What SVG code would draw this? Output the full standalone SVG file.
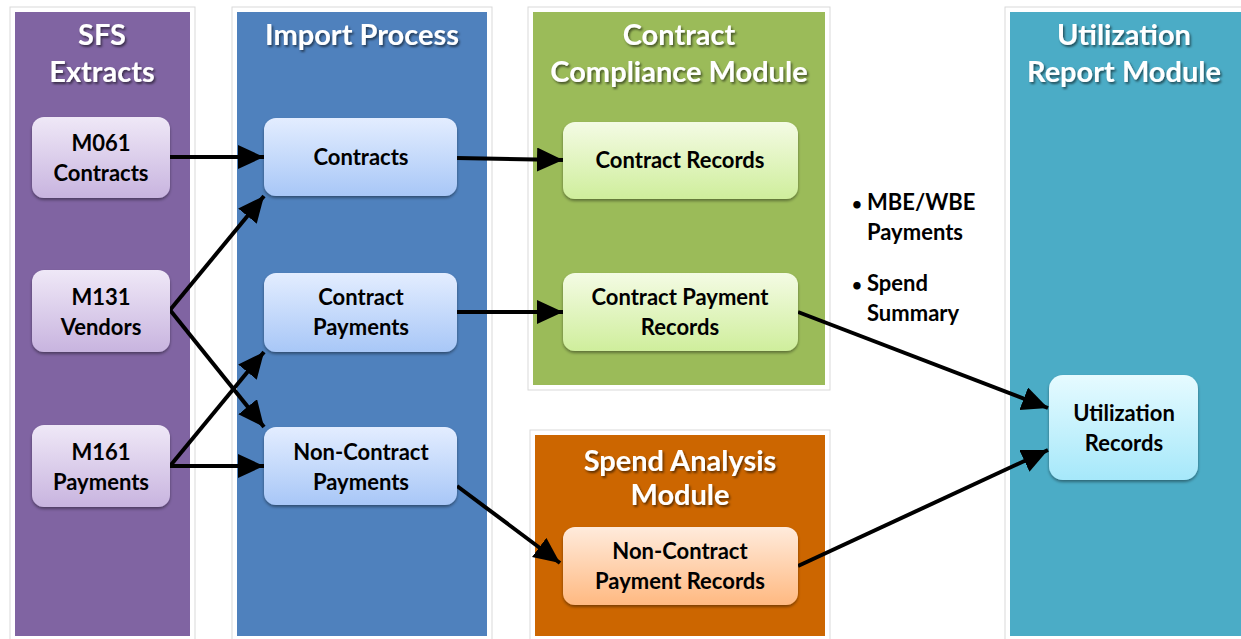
<svg xmlns="http://www.w3.org/2000/svg" width="1241" height="639" viewBox="0 0 1241 639">
<style>
.frame{fill:#fff;stroke:#d9d9d9;stroke-width:1}
.title{font-family:Lato,"Open Sans",sans-serif;font-weight:bold;font-size:29px;fill:#fff;text-anchor:middle;filter:url(#ts)}
.lbl{font-family:Lato,"Open Sans",sans-serif;font-weight:bold;font-size:22px;fill:#000;text-anchor:middle}
.node{filter:url(#ns)}
.conn{stroke:#000;stroke-width:4;fill:none;marker-end:url(#ah)}
</style>
<defs>
<filter id="ts" x="-10%" y="-30%" width="120%" height="160%"><feDropShadow dx="1.5" dy="2" stdDeviation="1.2" flood-color="#000" flood-opacity="0.55"/></filter>
<filter id="ns" x="-10%" y="-10%" width="120%" height="130%"><feDropShadow dx="0" dy="2" stdDeviation="1.5" flood-color="#000" flood-opacity="0.4"/></filter>
<marker id="ah" markerUnits="userSpaceOnUse" markerWidth="30" markerHeight="26" refX="26" refY="12" orient="auto"><path d="M0,0 L26,12 L0,24 Z" fill="#000"/></marker>
<linearGradient id="gp" x1="0" y1="0" x2="0" y2="1"><stop offset="0" stop-color="#efe8f7"/><stop offset="1" stop-color="#c8b4df"/></linearGradient>
<linearGradient id="gb" x1="0" y1="0" x2="0" y2="1"><stop offset="0" stop-color="#e3edff"/><stop offset="1" stop-color="#a8c7f7"/></linearGradient>
<linearGradient id="gg" x1="0" y1="0" x2="0" y2="1"><stop offset="0" stop-color="#f4fbe4"/><stop offset="1" stop-color="#cfee9c"/></linearGradient>
<linearGradient id="go" x1="0" y1="0" x2="0" y2="1"><stop offset="0" stop-color="#ffebdc"/><stop offset="1" stop-color="#ffb981"/></linearGradient>
<linearGradient id="gt" x1="0" y1="0" x2="0" y2="1"><stop offset="0" stop-color="#e6fbff"/><stop offset="1" stop-color="#a6e8fa"/></linearGradient>
</defs>
<rect width="1241" height="639" fill="#fff"/>

<g id="panel-sfs">
<rect class="frame" x="10" y="7" width="185" height="634"/>
<rect x="15" y="12" width="175" height="624" fill="#8064a2"/>
<text class="title" x="102" y="45">SFS</text>
<text class="title" x="102" y="82">Extracts</text>
</g>
<g id="panel-import">
<rect class="frame" x="232" y="7" width="260" height="634"/>
<rect x="237" y="12" width="250" height="624" fill="#4f81bd"/>
<text class="title" x="362" y="45">Import Process</text>
</g>
<g id="panel-compliance">
<rect class="frame" x="528" y="7" width="302" height="383"/>
<rect x="533" y="12" width="292" height="373" fill="#9bbb59"/>
<text class="title" x="679" y="45">Contract</text>
<text class="title" x="679" y="82">Compliance Module</text>
</g>
<g id="panel-spend">
<rect class="frame" x="530" y="430" width="300" height="211"/>
<rect x="535" y="435" width="290" height="201" fill="#cc6600"/>
<text class="title" x="680" y="471">Spend Analysis</text>
<text class="title" x="680" y="505">Module</text>
</g>
<g id="panel-utilization">
<rect class="frame" x="1005" y="7" width="245" height="634"/>
<rect x="1010" y="12" width="240" height="624" fill="#4bacc6"/>
<text class="title" x="1124" y="45">Utilization</text>
<text class="title" x="1124" y="82">Report Module</text>
</g>

<g id="connectors">
<line class="conn" x1="170" y1="157" x2="264" y2="157"/>
<line class="conn" x1="170" y1="310" x2="264" y2="196"/>
<line class="conn" x1="170" y1="310" x2="264" y2="427"/>
<line class="conn" x1="170" y1="466" x2="264" y2="352"/>
<line class="conn" x1="170" y1="466" x2="264" y2="466"/>
<line class="conn" x1="457" y1="158" x2="563" y2="160"/>
<line class="conn" x1="457" y1="312" x2="563" y2="312"/>
<line class="conn" x1="457" y1="486" x2="560" y2="563"/>
<line class="conn" x1="798" y1="312" x2="1048" y2="408"/>
<line class="conn" x1="798" y1="566" x2="1048" y2="450"/>
</g>

<g id="bullets" font-family="Lato,'Open Sans',sans-serif" font-weight="bold" font-size="22" fill="#000">
<text x="852" y="210" font-size="17">•</text><text x="867" y="210">MBE/WBE</text>
<text x="867" y="240">Payments</text>
<text x="852" y="291" font-size="17">•</text><text x="867" y="291">Spend</text>
<text x="867" y="321">Summary</text>
</g>

<g id="n-m061" class="node"><rect x="32" y="117" width="138" height="81" rx="12" fill="url(#gp)"/></g>
<g id="n-m131" class="node"><rect x="32" y="270" width="138" height="82" rx="12" fill="url(#gp)"/></g>
<g id="n-m161" class="node"><rect x="32" y="425" width="138" height="82" rx="12" fill="url(#gp)"/></g>
<g id="n-contracts" class="node"><rect x="264" y="118" width="193" height="78" rx="12" fill="url(#gb)"/></g>
<g id="n-cpay" class="node"><rect x="264" y="273" width="193" height="79" rx="12" fill="url(#gb)"/></g>
<g id="n-ncpay" class="node"><rect x="264" y="427" width="193" height="78" rx="12" fill="url(#gb)"/></g>
<g id="n-crec" class="node"><rect x="563" y="122" width="235" height="77" rx="12" fill="url(#gg)"/></g>
<g id="n-cprec" class="node"><rect x="563" y="273" width="235" height="78" rx="12" fill="url(#gg)"/></g>
<g id="n-ncprec" class="node"><rect x="563" y="527" width="235" height="78" rx="12" fill="url(#go)"/></g>
<g id="n-util" class="node"><rect x="1049" y="375" width="149" height="105" rx="14" fill="url(#gt)"/></g>

<g id="labels">
<text class="lbl" x="101" y="151">M061</text><text class="lbl" x="101" y="181">Contracts</text>
<text class="lbl" x="101" y="305">M131</text><text class="lbl" x="101" y="335">Vendors</text>
<text class="lbl" x="101" y="460">M161</text><text class="lbl" x="101" y="490">Payments</text>
<text class="lbl" x="361" y="165">Contracts</text>
<text class="lbl" x="361" y="305">Contract</text><text class="lbl" x="361" y="335">Payments</text>
<text class="lbl" x="361" y="460">Non-Contract</text><text class="lbl" x="361" y="490">Payments</text>
<text class="lbl" x="680" y="168">Contract Records</text>
<text class="lbl" x="680" y="305">Contract Payment</text><text class="lbl" x="680" y="335">Records</text>
<text class="lbl" x="680" y="559">Non-Contract</text><text class="lbl" x="680" y="589">Payment Records</text>
<text class="lbl" x="1124" y="421">Utilization</text><text class="lbl" x="1124" y="451">Records</text>
</g>
</svg>
